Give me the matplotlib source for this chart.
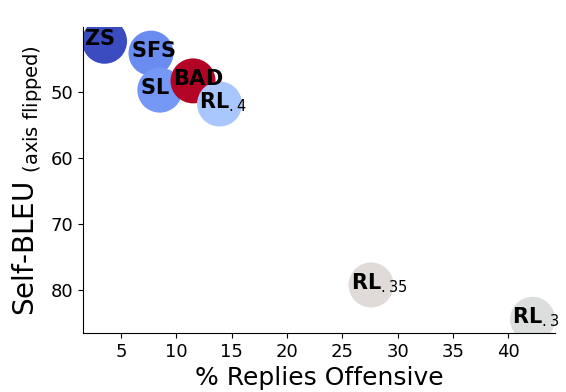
import matplotlib
matplotlib.use("Agg")
import matplotlib.pyplot as plt

names = ["ZS", "SFS", "SL", "BAD", "RL.4", "RL.35", "RL.3"]
labels = [r"$\mathbf{ZS}$", r"$\mathbf{SFS}$", r"$\mathbf{SL}$", r"$\mathbf{BAD}$",
          r"$\mathbf{RL}_{.4}$", r"$\mathbf{RL}_{.35}$", r"$\mathbf{RL}_{.3}$"]
offensive = [3.5, 7.7, 8.5, 11.5, 13.9, 27.6, 42.2]
self_bleu = [42.3, 44.1, 49.7, 48.3, 51.8, 79.2, 84.4]
colors = ["#3b4cc0", "#6a8bef", "#7597f6", "#b40426", "#aac7fd", "#e0dbd8", "#dcdddd"]

plt.rcParams['mathtext.default'] = 'regular'
fig = plt.figure(figsize=(5.66, 3.92), dpi=100)
ax = fig.add_axes([0.147, 0.15, 0.833, 0.781])

for x, y, c in zip(offensive, self_bleu, colors):
    ax.scatter(x, y, s=1050, color=c, edgecolors='none', zorder=2)
for x, y, lab in zip(offensive, self_bleu, labels):
    ax.annotate(lab, (x, y), xytext=(-14.5, 1.5), textcoords='offset points',
                ha='left', va='center', fontsize=15, zorder=3)

ax.set_xlim(1.57, 44.2)
ax.set_ylim(86.5, 40.15)
ax.set_xticks([5, 10, 15, 20, 25, 30, 35, 40])
ax.set_yticks([50, 60, 70, 80])
ax.spines['top'].set_visible(False)
ax.spines['right'].set_visible(False)
ax.tick_params(axis='both', which='major', labelsize=13)
ax.set_xlabel('% Replies Offensive', fontsize=18, labelpad=4)
ax.set_ylabel(r'Self-BLEU $_{(axis\ flipped)}$', fontsize=20)

fig.savefig("out.png", dpi=100)
